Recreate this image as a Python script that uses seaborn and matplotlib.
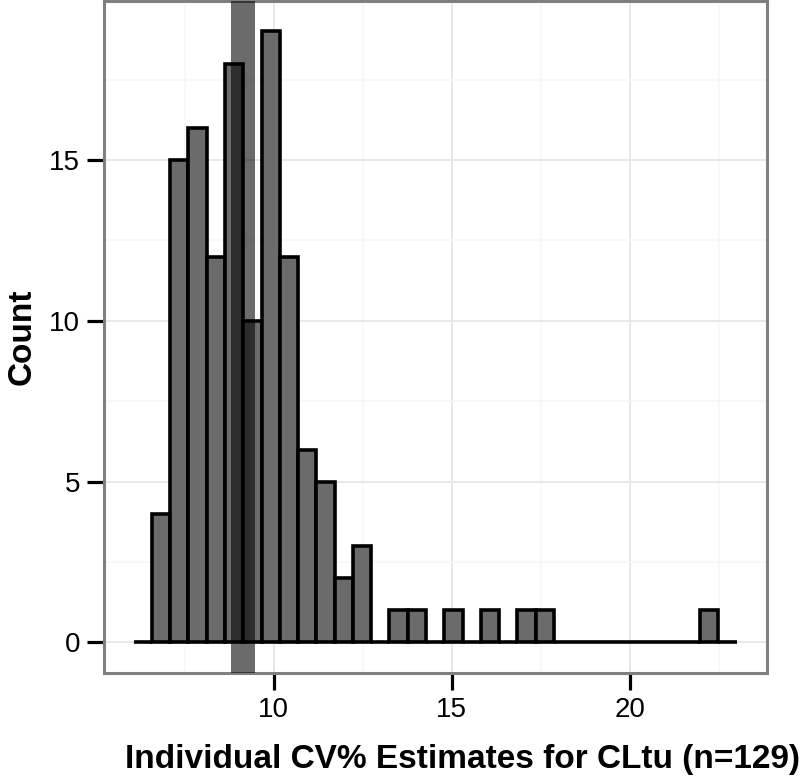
import numpy as np
import matplotlib
matplotlib.use("Agg")
import matplotlib.pyplot as plt
import seaborn as sns

# histogram: one empty bin on each side (ggplot-style padding)
bin_start = 6.07
bin_width = 0.513
counts = [0,
          4, 15, 16, 12, 18, 10, 19, 12, 6, 5, 2, 3,
          0, 1, 1, 0, 1, 0, 1, 0, 1, 1,
          0, 0, 0, 0, 0, 0, 0, 0,
          1,
          0]
ref_line = 9.13  # thick grey reference line

x_ticks = [10, 15, 20]
y_ticks = [0, 5, 10, 15]
x_label = "Individual CV% Estimates for CLtu (n=129)"
y_label = "Count"

sns.set_style("white")
plt.rcParams['font.family'] = ['Liberation Sans', 'DejaVu Sans']

n_bins = len(counts)
centers = bin_start + bin_width * (np.arange(n_bins) + 0.5)
bin_end = bin_start + bin_width * n_bins

fig = plt.figure(figsize=(8, 7.81), dpi=100)
ax = fig.add_axes([0.1294, 0.1383, 0.8290, 0.8605])

sns.histplot(x=centers, weights=counts, binwidth=bin_width,
             binrange=(bin_start, bin_end), color='#6b6b6b', alpha=1,
             edgecolor='black', linewidth=2.6, ax=ax, zorder=2)

ax.axvline(ref_line, color='black', alpha=0.58, lw=17.3, zorder=3)

# ggplot-like expansion of 5%
xpad = (bin_end - bin_start) * 0.05
ax.set_xlim(bin_start - xpad, bin_end + xpad)
ymax = max(counts)
ax.set_ylim(-ymax * 0.05, ymax * 1.05)

ax.set_xticks(x_ticks)
ax.set_yticks(y_ticks)
ax.set_xticks([7.5, 12.5, 17.5, 22.5], minor=True)
ax.set_yticks([2.5, 7.5, 12.5, 17.5], minor=True)
ax.set_axisbelow(True)
ax.grid(which='major', color='#e6e6e6', lw=1.3)
ax.grid(which='minor', color='#f6f6f6', lw=1.1)

ax.tick_params(which='major', bottom=True, left=True, length=12, width=2.3,
               color='black', labelcolor='black', labelsize=20, pad=5,
               direction='out')
ax.tick_params(which='minor', length=0)

for s in ax.spines.values():
    s.set_visible(True)
    s.set_color('#7f7f7f')
    s.set_linewidth(2.2)

ax.set_xlabel(x_label, fontsize=24, fontweight='bold', color='black')
ax.set_ylabel(y_label, fontsize=24, fontweight='bold', color='black')
ax.xaxis.set_label_coords(0.541, -0.105)
ax.yaxis.set_label_coords(-0.099, 0.5)

fig.savefig("out.png", dpi=100)
